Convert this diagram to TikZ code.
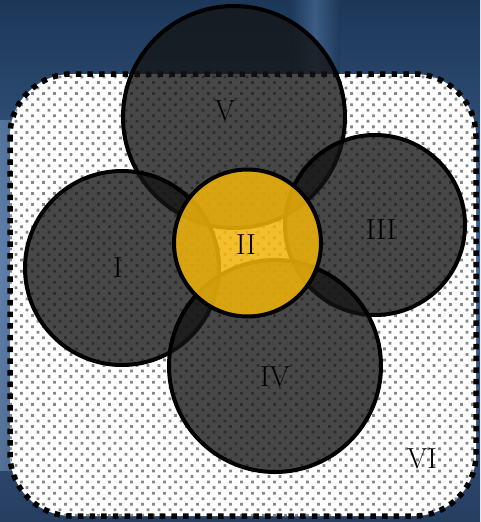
\documentclass[tikz,border=0pt]{standalone}
\usetikzlibrary{shadings}
\definecolor{bgtop}{RGB}{28,55,88}
\definecolor{bgmid}{RGB}{65,100,145}
\definecolor{bgbot}{RGB}{38,62,96}
\definecolor{bgleft}{RGB}{125,155,195}
\definecolor{bgstreak}{RGB}{80,115,160}
\definecolor{darkfill}{RGB}{20,20,20}
\definecolor{goldfill}{RGB}{240,180,10}
\definecolor{dotgray}{RGB}{135,135,135}
\tikzset{
  darkcirc/.style={circle, inner sep=0pt, draw=black, line width=4pt, fill=darkfill, fill opacity=0.78},
  goldcirc/.style={circle, inner sep=0pt, draw=black, line width=4pt, fill=goldfill, fill opacity=0.86},
  lbl/.style={font=\fontsize{29}{35}\selectfont, text=black, inner sep=0pt},
  areabox/.style={draw=black, line width=5.5pt, dash pattern=on 5.5pt off 6.2pt, rounded corners=62pt},
}
\begin{document}
\begin{tikzpicture}[x=1pt,y=-1pt]
\useasboundingbox (0,0) rectangle (480,522);
% background (blurred photo approximation)
\shade[top color=bgtop, bottom color=bgbot, middle color=bgmid] (0,0) rectangle (480,522);
\shade[left color=bgleft, right color=bgmid, opacity=0.5] (0,120) rectangle (60,470);
\shade[left color=bgtop, right color=bgtop, middle color=bgstreak, opacity=0.6] (290,0) rectangle (340,75);
% region VI
\fill[white, rounded corners=62pt] (10,74) rectangle (476,516);
\begin{scope}
  \clip[rounded corners=62pt] (10,74) rectangle (476,516);
  \foreach \j in {0,...,40} {
    \fill[dotgray] \foreach \i in {0,...,43} {(3.5+11*\i, 75.5+11.1*\j) rectangle +(2.8,2.8)};
    \fill[dotgray] \foreach \i in {0,...,43} {(9+11*\i, 81.05+11.1*\j) rectangle +(2.8,2.8)};
  }
\end{scope}
\draw[areabox] (10,74) rectangle (476,516);
% dark circles
\node[darkcirc, minimum size=222pt] (cV) at (234,117) {};
\node[darkcirc, minimum size=194pt] (cI) at (122,268) {};
\node[darkcirc, minimum size=180pt] (cIII) at (375,225) {};
\node[darkcirc, minimum size=212pt] (cIV) at (275,366) {};
% gold circle
\node[goldcirc, minimum size=147pt] (cII) at (247.5,243) {};
% labels
\node[lbl] (tV) at (225,111) {V};
\node[lbl] (tI) at (118,268) {I};
\node[lbl] (tIII) at (381,230) {III};
\node[lbl] (tIV) at (275,377) {IV};
\node[lbl] (tII) at (246,245) {II};
\node[lbl] (tVI) at (422,459) {VI};
\end{tikzpicture}
\end{document}
